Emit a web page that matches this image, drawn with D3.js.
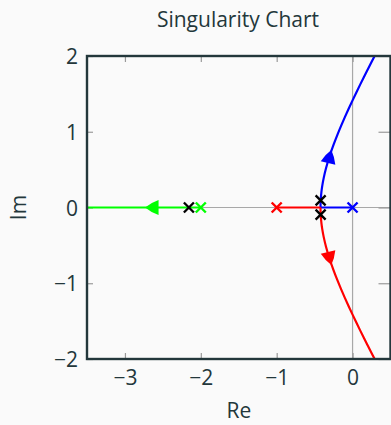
<!DOCTYPE html>
<html><head><meta charset="utf-8">
<script src="https://cdn.jsdelivr.net/npm/d3@7"></script>
<style>
html,body{margin:0;padding:0;background:#fafafa;}
svg{display:block;}
text{font-family:"Open Sans","Noto Sans",sans-serif;fill:#23373B;}
</style></head>
<body>
<svg id="c" width="391" height="425"></svg>
<script>
// ---- data ----
const title = "Singularity Chart";
const xLabel = "Re";
const yLabel = "Im";
const xTicks = [-3, -2, -1, 0];
const yTicks = [-2, -1, 0, 1, 2];
const xDomain = [-3.5, 0.5];
const yDomain = [-2, 2];
// open-loop poles (x marks, branch colours)
const polesRe = [0, -1, -2];
const polesIm = [0, 0, 0];
// closed-loop poles (black x marks)
const clRe = [-2.157, -0.421, -0.421];
const clIm = [0, 0.094, -0.094];
// root locus branches
const blueBranch = [[0,0],[-0.4226,0],[-0.42,0.096],[-0.41,0.210],[-0.40,0.283],[-0.38,0.391],[-0.35,0.517],[-0.30,0.686],[-0.25,0.829],[-0.20,0.959],[-0.15,1.080],[-0.10,1.196],[-0.05,1.307],[0,1.414],[0.05,1.519],[0.10,1.622],[0.15,1.723],[0.20,1.822],[0.25,1.920],[0.30,2.017]];
const redBranch = [[-1,0],[-0.4226,0],[-0.42,-0.096],[-0.41,-0.210],[-0.40,-0.283],[-0.38,-0.391],[-0.35,-0.517],[-0.30,-0.686],[-0.25,-0.829],[-0.20,-0.959],[-0.15,-1.080],[-0.10,-1.196],[-0.05,-1.307],[0,-1.414],[0.05,-1.519],[0.10,-1.622],[0.15,-1.723],[0.20,-1.822],[0.25,-1.920],[0.30,-2.017]];
const greenBranch = [[-2,0],[-3.6,0]];
// arrow heads: tip and tail in data coords
const arrowTips = [[-0.28,0.76],[-0.28,-0.76],[-2.735,0]];
const arrowTails = [[-0.33,0.56],[-0.33,-0.56],[-2.553,0]];
const branchColors = ["#0000ff","#ff0000","#00ff00"];

// ---- chart ----
const svg = d3.select("#c");
const L = 87, R = 390.5, T = 56, B = 359;
const x = d3.scaleLinear().domain(xDomain).range([L, R]);
const y = d3.scaleLinear().domain(yDomain).range([B, T]);
const fmt = d => d < 0 ? "\u2212" + Math.abs(d) : String(d);
const FS = 21;

svg.append("defs").append("clipPath").attr("id","clip")
  .append("rect").attr("x",L).attr("y",T).attr("width",R-L).attr("height",B-T);

// zero lines
svg.append("line").attr("x1",x(0)).attr("x2",x(0)).attr("y1",T).attr("y2",B)
  .attr("stroke","#a8a8a8").attr("stroke-width",1.2);
svg.append("line").attr("x1",L).attr("x2",R).attr("y1",y(0)).attr("y2",y(0))
  .attr("stroke","#a8a8a8").attr("stroke-width",1.2);

// ticks (inward) with d3 axes
const tickCol = "#9a9a9a";
function styleAxis(g){ g.select(".domain").remove(); g.selectAll(".tick line").attr("stroke",tickCol).attr("stroke-width",1.2); }
svg.append("g").attr("transform",`translate(0,${B})`)
  .call(d3.axisBottom(x).tickValues(xTicks).tickSize(-6).tickPadding(0).tickFormat(fmt))
  .call(styleAxis)
  .call(g=>g.selectAll("text").attr("font-size",FS).attr("fill","#23373B").attr("y",26).attr("dy",0));
svg.append("g").attr("transform",`translate(0,${T})`)
  .call(d3.axisTop(x).tickValues(xTicks).tickSize(-6).tickFormat(""))
  .call(styleAxis);
svg.append("g").attr("transform",`translate(${L},0)`)
  .call(d3.axisLeft(y).tickValues(yTicks).tickSize(-6).tickPadding(10).tickFormat(fmt))
  .call(styleAxis)
  .call(g=>g.selectAll("text").attr("font-size",FS).attr("fill","#23373B").attr("x",-9).attr("dy","0.36em"));
svg.append("g").attr("transform",`translate(${R},0)`)
  .call(d3.axisRight(y).tickValues(yTicks).tickSize(-12).tickFormat(""))
  .call(styleAxis);

// branches
const plot = svg.append("g").attr("clip-path","url(#clip)");
[blueBranch, redBranch].forEach((br,i)=>{
  plot.append("path").attr("d", d3.line().x(d=>x(d[0])).y(d=>y(d[1])).curve(d3.curveLinear)(br.slice(0,2)))
    .attr("fill","none").attr("stroke",branchColors[i]).attr("stroke-width",2.2);
  plot.append("path").attr("d", d3.line().x(d=>x(d[0])).y(d=>y(d[1])).curve(d3.curveCatmullRom)(br.slice(1)))
    .attr("fill","none").attr("stroke",branchColors[i]).attr("stroke-width",2.2);
});
plot.append("path").attr("d", d3.line().x(d=>x(d[0])).y(d=>y(d[1]))(greenBranch))
  .attr("fill","none").attr("stroke",branchColors[2]).attr("stroke-width",2.2);

// arrows
arrowTips.forEach((tp,i)=>{
  const tl = arrowTails[i];
  const x1=x(tp[0]), y1=y(tp[1]), x0=x(tl[0]), y0=y(tl[1]);
  const ang = Math.atan2(y1-y0, x1-x0)*180/Math.PI;
  plot.append("path")
    .attr("d","M0,0 Q-5.5,-4.6 -13.5,-7.5 L-13.5,7.5 Q-5.5,4.6 0,0 Z")
    .attr("transform",`translate(${x1},${y1}) rotate(${ang})`)
    .attr("fill",branchColors[i]);
});

// x marks
function cross(g, cx, cy, col){
  const s=5;
  g.append("path").attr("d",`M${cx-s},${cy-s}L${cx+s},${cy+s}M${cx-s},${cy+s}L${cx+s},${cy-s}`)
    .attr("stroke",col).attr("stroke-width",2.4).attr("fill","none");
}
polesRe.forEach((re,i)=>cross(svg, x(re), y(polesIm[i]), branchColors[i]));
clRe.forEach((re,i)=>cross(svg, x(re), y(clIm[i]), "#000"));

// frame
svg.append("rect").attr("x",L).attr("y",T).attr("width",R-L).attr("height",B-T)
  .attr("fill","none").attr("stroke","#23373B").attr("stroke-width",2.4);

// titles
svg.append("text").attr("x",238).attr("y",27).attr("text-anchor","middle").attr("font-size",FS).text(title);
svg.append("text").attr("x",239).attr("y",418).attr("text-anchor","middle").attr("font-size",FS).text(xLabel);
svg.append("text").attr("transform",`translate(26,${y(0)}) rotate(-90)`).attr("text-anchor","middle").attr("font-size",FS).text(yLabel);
</script>
</body></html>
